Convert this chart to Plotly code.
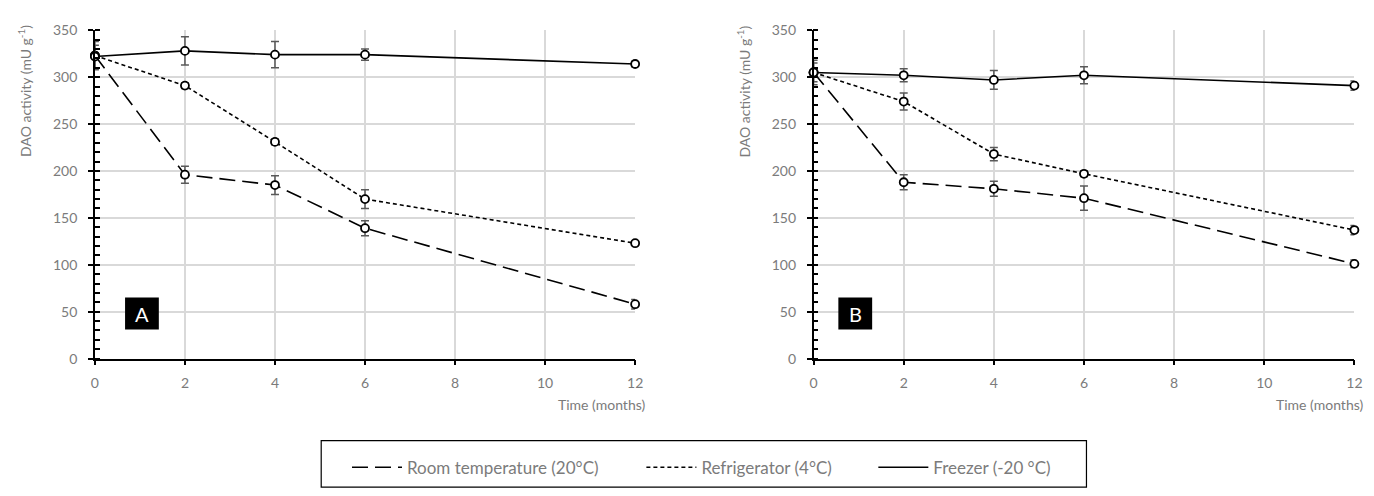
import plotly.graph_objects as go

# ---------------- data ----------------
months = [0, 2, 4, 6, 12]

series_names = ["Room temperature (20°C)", "Refrigerator (4°C)", "Freezer (-20 °C)"]

# Panel A
a_room = [323, 196, 185, 139, 58]
a_room_err = [15, 9, 10, 8, 5]
a_fridge = [323, 291, 231, 170, 123]
a_fridge_err = [3, 3, 3, 10, 2]
a_freezer = [322, 328, 324, 324, 314]
a_freezer_err = [12, 15, 14, 6, 3]

# Panel B
b_room = [305, 188, 181, 171, 101]
b_room_err = [13, 8, 8, 13, 4]
b_fridge = [305, 274, 218, 197, 137]
b_fridge_err = [3, 9, 7, 3, 5]
b_freezer = [305, 302, 297, 302, 291]
b_freezer_err = [10, 7, 10, 9, 5]

panel_labels = ["A", "B"]
y_ticks = [0, 50, 100, 150, 200, 250, 300, 350]
x_ticks = [0, 2, 4, 6, 8, 10, 12]

# ---------------- styling ----------------
FONT = "Lato"
GRAY = "#7b7b7b"
ERR = "#595959"
dashes = ["16px,7px", "4px,3px", "solid"]
legend_ids = ["legend", "legend2", "legend3"]
legend_left_px = [346, 643, 877]

W, H = 1374, 496
fig = go.Figure()

panels = [
    (("x", "y"), [a_room, a_fridge, a_freezer], [a_room_err, a_fridge_err, a_freezer_err]),
    (("x2", "y2"), [b_room, b_fridge, b_freezer], [b_room_err, b_fridge_err, b_freezer_err]),
]

for pi, ((xa, ya), vals, errs) in enumerate(panels):
    for si in range(3):
        fig.add_trace(go.Scatter(
            x=months, y=vals[si], xaxis=xa, yaxis=ya, mode="lines",
            name=series_names[si], legendgroup=series_names[si],
            legend=legend_ids[si], showlegend=(pi == 0),
            line=dict(color="black", width=1.6, dash=dashes[si]),
            cliponaxis=False, hoverinfo="skip",
        ))
    for si in range(3):
        fig.add_trace(go.Scatter(
            x=months, y=vals[si], xaxis=xa, yaxis=ya, mode="markers",
            name=series_names[si], legendgroup=series_names[si],
            legend=legend_ids[si], showlegend=False,
            marker=dict(symbol="circle", size=8, color="white",
                        line=dict(color="black", width=1.8)),
            error_y=dict(type="data", array=errs[si], visible=True,
                         color=ERR, thickness=1.5, width=4),
            cliponaxis=False,
        ))

ydom = [1 - 362 / H, 1 - 22 / H]
xdomA = [91.7 / W, 636.7 / W]
xdomB = [816.7 / W, 1362.3 / W]

xcommon = dict(range=[0, 12], tickvals=x_ticks, showgrid=True, gridcolor="#d9d9d9",
               gridwidth=1.5, zeroline=False, showline=True, linecolor="black",
               linewidth=1.5, ticks="outside", ticklen=5, tickcolor="black", tickwidth=1.5,
               tickfont=dict(family=FONT, size=14, color=GRAY), ticklabelstandoff=6,
               fixedrange=True)
ycommon = dict(range=[0, 350], tickvals=y_ticks, showgrid=True, gridcolor="#d9d9d9",
               gridwidth=1.5, zeroline=False, showline=True, linecolor="black",
               linewidth=1.5, ticks="outside", ticklen=5, tickcolor="black", tickwidth=1.5,
               tickfont=dict(family=FONT, size=14, color=GRAY), ticklabelstandoff=8,
               minor=dict(dtick=10, ticks="inside", ticklen=5, tickcolor="black",
                          tickwidth=1.5, showgrid=False),
               fixedrange=True)

legend_layout = {}
for lid, lx in zip(legend_ids, legend_left_px):
    legend_layout[lid] = dict(
        orientation="h", x=lx / W, xanchor="left", y=1 - 475 / H, yanchor="middle",
        bgcolor="rgba(0,0,0,0)", borderwidth=0,
        font=dict(family=FONT, size=17, color=GRAY),
        itemwidth=50, itemclick=False, itemdoubleclick=False)

fig.update_layout(
    width=W, height=H, autosize=False,
    margin=dict(l=0, r=0, t=0, b=0),
    paper_bgcolor="white", plot_bgcolor="white",
    font=dict(family=FONT, color=GRAY),
    xaxis=dict(domain=xdomA, anchor="y", **xcommon),
    yaxis=dict(domain=ydom, anchor="x", **ycommon),
    xaxis2=dict(domain=xdomB, anchor="y2", **xcommon),
    yaxis2=dict(domain=ydom, anchor="x2", **ycommon),
    showlegend=True,
    **legend_layout,
)

# legend frame
fig.add_shape(type="rect", xref="paper", yref="paper",
              x0=320 / W, x1=1092 / W, y0=1 - 495 / H, y1=1 - 447 / H,
              line=dict(color="black", width=1.2), fillcolor="rgba(0,0,0,0)", layer="below")

boxes = [(("x", "y"), 0.67, 1.42), (("x2", "y2"), 0.55, 1.30)]
for i, ((xa, ya), x0, x1) in enumerate(boxes):
    fig.add_shape(type="rect", xref=xa, yref=ya, x0=x0, x1=x1, y0=31, y1=65,
                  fillcolor="black", line=dict(width=0), layer="above")
    fig.add_annotation(xref=xa, yref=ya, x=(x0 + x1) / 2, y=48, text=panel_labels[i],
                       showarrow=False, font=dict(family=FONT, size=20, color="white"))

for xpx, xr in [(20, 636.7 + 11.5), (746, 1362.3 + 10.7)]:
    fig.add_annotation(xref="paper", yref="paper", x=xpx / W, y=1 - 85 / H,
                       text="DAO activity (mU g<sup>-1</sup>)", textangle=-90,
                       showarrow=False, xanchor="center", yanchor="middle",
                       font=dict(family=FONT, size=14, color=GRAY))
    fig.add_annotation(xref="paper", yref="paper", x=xr / W, y=1 - 410 / H,
                       text="Time (months)", showarrow=False,
                       xanchor="right", yanchor="middle",
                       font=dict(family=FONT, size=14, color=GRAY))

fig.write_html(
    "out.html",
    config={"displayModeBar": False, "staticPlot": False},
    post_script="document.body.style.margin='0';document.body.style.overflow='hidden';",
)
